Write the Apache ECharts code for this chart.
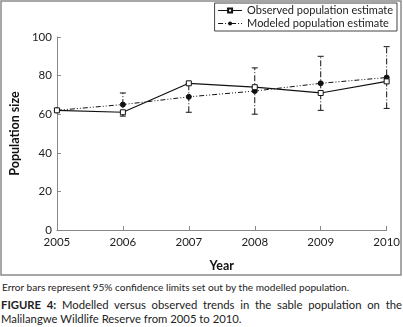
<!DOCTYPE html>
<html>
<head>
<meta charset="utf-8">
<script src="https://cdn.jsdelivr.net/npm/echarts@6/dist/echarts.min.js"></script>
<style>
  body { margin: 0; background: #fff; font-family: Lato, sans-serif; }
  #chart { width: 403px; height: 277px; }
  .note { font-size: 10.1px; color: #222; margin: 4px 2px 0 2px; }
  .cap { font-size: 11.3px; color: #222; margin: 5px 1px 0 1px; text-align: justify; text-align-last: left; line-height: 13.5px; }
  .cap b { font-weight: bold; }
</style>
</head>
<body>
<div id="chart"></div>
<div class="note">Error bars represent 95% confidence limits set out by the modelled population.</div>
<div class="cap"><b>FIGURE 4:</b> Modelled versus observed trends in the sable population on the Malilangwe Wildlife Reserve from 2005 to 2010.</div>
<script>
// 数据
var years = [2005, 2006, 2007, 2008, 2009, 2010];
var observed = [62, 61, 76, 74, 71, 77];
var modelled = [62, 65, 69, 72, 76, 79];
// 95% 置信区间
var ciLow = [null, 59, 61, 60, 62, 63];
var ciHigh = [null, 71, 76, 84, 90, 95];

function pairs(arr){
	var out = [];
	for (var i = 0; i < years.length; i++) out.push([years[i], arr[i]]);
	return out;
}
var ciData = [];
for (var i = 0; i < years.length; i++) {
	if (ciLow[i] != null) ciData.push([years[i], ciLow[i], ciHigh[i]]);
}

var chart = echarts.init(document.getElementById('chart'));
var option = {
	animation: false,
	textStyle: { fontFamily: 'Lato' },
	graphic: [{
		type: 'rect',
		shape: { x: 1, y: 1, width: 400, height: 274 },
		style: { fill: 'none', stroke: '#8a8a8a', lineWidth: 1.5 },
		silent: true
	}],
	legend: {
		right: 6, top: 3,
		orient: 'vertical',
		padding: [2, 4, 2, 3],
		itemGap: 2,
		itemWidth: 24, itemHeight: 5,
		borderColor: '#444', borderWidth: 1,
		lineStyle: { width: 1 },
		textStyle: { fontSize: 11, color: '#222' },
		data: ['Observed population estimate', 'Modeled population estimate']
	},
	grid: { left: 49.5, right: 15, top: 37, bottom: 47 },
	xAxis: {
		type: 'value', min: 2005, max: 2010, interval: 1,
		name: 'Year', nameLocation: 'middle', nameGap: 29,
		nameTextStyle: { fontWeight: 'bold', fontSize: 12.5, color: '#111' },
		axisLine: { lineStyle: { color: '#888' } },
		axisTick: { inside: true, length: 4, lineStyle: { color: '#888' } },
		axisLabel: { fontSize: 11.5, color: '#222', margin: 6, formatter: function(v){ return String(v); } },
		splitLine: { show: false }
	},
	yAxis: {
		type: 'value', min: 0, max: 100, interval: 20,
		name: 'Population size', nameLocation: 'middle', nameGap: 29, nameRotate: 90,
		nameTextStyle: { fontWeight: 'bold', fontSize: 12.5, color: '#111' },
		axisLine: { show: true, lineStyle: { color: '#888' } },
		axisTick: { show: true, inside: true, length: 4, lineStyle: { color: '#888' } },
		axisLabel: { fontSize: 11.5, color: '#222', margin: 5 },
		splitLine: { show: false }
	},
	series: [
		{
			name: 'CI', type: 'custom',
			data: ciData,
			z: 1,
			renderItem: function(params, api){
				var x = api.value(0);
				var lo = api.coord([x, api.value(1)]);
				var hi = api.coord([x, api.value(2)]);
				var style = { stroke: '#111', lineWidth: 1, lineDash: [6, 2, 1, 2] };
				return {
					type: 'group',
					children: [
						{ type: 'line', shape: { x1: lo[0], y1: lo[1], x2: hi[0], y2: hi[1] }, style: style },
						{ type: 'line', shape: { x1: lo[0] - 3, y1: lo[1], x2: lo[0] + 3, y2: lo[1] }, style: { stroke: '#111', lineWidth: 1 } },
						{ type: 'line', shape: { x1: hi[0] - 3, y1: hi[1], x2: hi[0] + 3, y2: hi[1] }, style: { stroke: '#111', lineWidth: 1 } }
					]
				};
			}
		},
		{
			name: 'Observed population estimate', type: 'line',
			data: pairs(observed),
			symbol: 'rect', symbolSize: 5,
			lineStyle: { color: '#111', width: 1.2 },
			itemStyle: { color: '#fff', borderColor: '#111', borderWidth: 1 },
			z: 3
		},
		{
			name: 'Modeled population estimate', type: 'line',
			data: pairs(modelled),
			symbol: 'circle', symbolSize: 5,
			lineStyle: { color: '#111', width: 1, type: [5, 2, 1, 2, 1, 2] },
			itemStyle: { color: '#111', borderColor: '#111' },
			z: 2
		}
	]
};
chart.setOption(option);
</script>
</body>
</html>
